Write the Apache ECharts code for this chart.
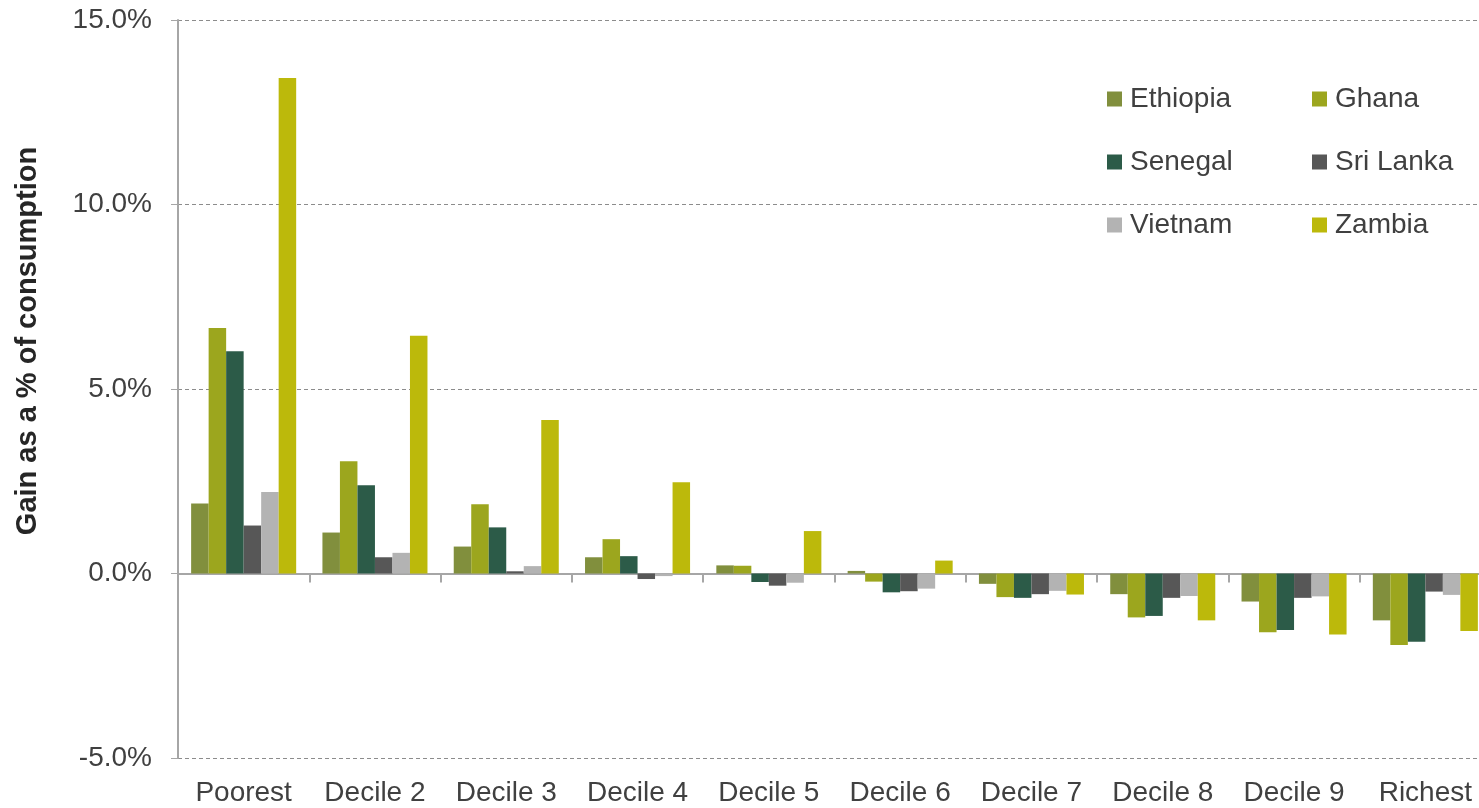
<!DOCTYPE html>
<html>
<head>
<meta charset="utf-8">
<script src="https://cdn.jsdelivr.net/npm/echarts@6/dist/echarts.min.js"></script>
<style>
  html, body { margin: 0; padding: 0; background: #fff; }
  #chart { width: 1479px; height: 808px; }
</style>
</head>
<body>
<div id="chart"></div>
<script>
// Consumption deciles, poorest to richest
const deciles = ['Poorest', 'Decile 2', 'Decile 3', 'Decile 4', 'Decile 5',
                 'Decile 6', 'Decile 7', 'Decile 8', 'Decile 9', 'Richest'];

// Gain as a % of consumption, by country
const ethiopia = [1.90, 1.11, 0.73, 0.44, 0.22, 0.07, -0.28, -0.56, -0.76, -1.27];
const ghana    = [6.65, 3.04, 1.88, 0.93, 0.21, -0.22, -0.64, -1.19, -1.59, -1.94];
const senegal  = [6.02, 2.39, 1.25, 0.47, -0.23, -0.51, -0.66, -1.15, -1.53, -1.85];
const sriLanka = [1.30, 0.44, 0.06, -0.15, -0.33, -0.48, -0.56, -0.66, -0.66, -0.49];
const vietnam  = [2.21, 0.56, 0.20, -0.07, -0.25, -0.41, -0.47, -0.61, -0.62, -0.58];
const zambia   = [13.43, 6.44, 4.16, 2.47, 1.15, 0.35, -0.57, -1.27, -1.65, -1.56];

const yTicks = { min: -5, max: 15, step: 5 };

const countries = [
  { name: 'Ethiopia',  data: ethiopia, color: '#818f3d' },
  { name: 'Ghana',     data: ghana,    color: '#9ca61e' },
  { name: 'Senegal',   data: senegal,  color: '#2c5b48' },
  { name: 'Sri Lanka', data: sriLanka, color: '#575757' },
  { name: 'Vietnam',   data: vietnam,  color: '#b3b3b3' },
  { name: 'Zambia',    data: zambia,   color: '#bcb90b' }
];

const FONT = "'Liberation Sans', Arial, sans-serif";
const TEXT = '#404040';
const AXIS = '#a6a6a6';

const legendCommon = {
  orient: 'vertical',
  top: 85,
  padding: 0,
  icon: 'rect',
  itemWidth: 15,
  itemHeight: 15,
  itemGap: 35,
  selectedMode: false,
  textStyle: { fontFamily: FONT, fontSize: 28, color: TEXT, lineHeight: 28, padding: [0, 0, 0, 3] }
};

const chart = echarts.init(document.getElementById('chart'), null, { renderer: 'canvas' });

chart.setOption({
  animation: false,
  backgroundColor: '#ffffff',
  // the last category runs slightly past the right edge of the canvas
  grid: { left: 178, top: 20, width: 1313, bottom: 50, containLabel: false, outerBoundsMode: 'none' },
  legend: [
    Object.assign({}, legendCommon, { left: 1107, data: ['Ethiopia', 'Senegal', 'Vietnam'] }),
    Object.assign({}, legendCommon, { left: 1312, data: ['Ghana', 'Sri Lanka', 'Zambia'] })
  ],
  xAxis: [
    {
      // labelled axis along the bottom of the plot
      type: 'category',
      data: deciles,
      position: 'bottom',
      axisLine: { show: false, onZero: false },
      axisTick: { show: false },
      axisLabel: { fontFamily: FONT, fontSize: 28, color: TEXT, margin: 21, interval: 0 },
      splitLine: { show: false }
    },
    {
      // zero baseline with category separators
      type: 'category',
      data: deciles,
      position: 'bottom',
      axisLine: { show: true, onZero: true, lineStyle: { color: AXIS, width: 2 } },
      axisTick: { show: true, length: 9, lineStyle: { color: AXIS, width: 2 } },
      axisLabel: { show: false },
      splitLine: { show: false }
    }
  ],
  yAxis: {
    type: 'value',
    min: yTicks.min,
    max: yTicks.max,
    interval: yTicks.step,
    axisLine: { show: true, lineStyle: { color: AXIS, width: 2 } },
    axisTick: { show: true, length: 7, lineStyle: { color: AXIS, width: 1 } },
    axisLabel: {
      fontFamily: FONT, fontSize: 28, color: TEXT, margin: 26,
      formatter: v => v.toFixed(1) + '%'
    },
    splitLine: { show: true, lineStyle: { color: '#8c8c8c', type: [4, 3], width: 1 } }
  },
  graphic: [{
    type: 'text',
    x: 28,
    y: 341,
    rotation: Math.PI / 2,
    style: {
      text: 'Gain as a % of consumption',
      fontFamily: FONT,
      fontWeight: 'bold',
      fontSize: 29,
      fill: '#262626',
      align: 'center',
      verticalAlign: 'middle'
    }
  }],
  series: countries.map(c => ({
    name: c.name,
    type: 'bar',
    xAxisIndex: 0,
    data: c.data,
    barGap: '0%',
    barCategoryGap: '20%',
    itemStyle: { color: c.color },
    emphasis: { disabled: true }
  }))
});
</script>
</body>
</html>
